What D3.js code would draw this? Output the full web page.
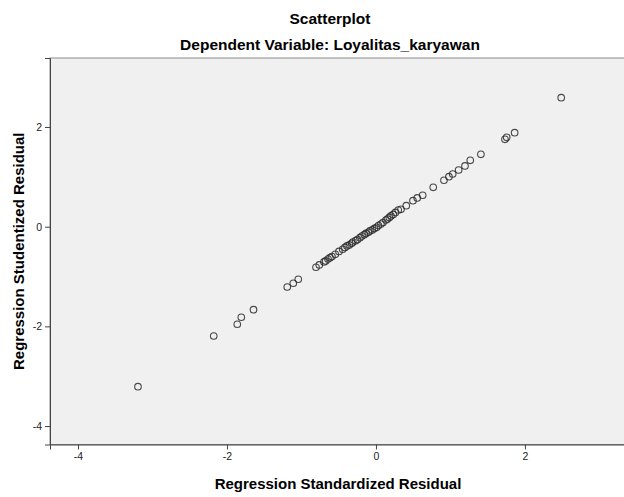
<!DOCTYPE html>
<html>
<head>
<meta charset="utf-8">
<script src="https://cdn.jsdelivr.net/npm/d3@7"></script>
<style>
  body { margin: 0; background: #fff; }
  svg { display: block; font-family: "Liberation Sans", Arial, sans-serif; }
</style>
</head>
<body>
<svg id="chart" width="624" height="497"></svg>
<script>
// standardized residual (x) and studentized residual (y)
const stdResid = [
  -3.195, -2.178, -1.862, -1.808, -1.644, -1.191, -1.110, -1.043,
  -0.805, -0.761, -0.698, -0.675, -0.644, -0.617, -0.591, -0.546,
  -0.497, -0.447, -0.416, -0.389, -0.358, -0.326, -0.309, -0.272,
  -0.248, -0.215, -0.188, -0.157, -0.134, -0.103, -0.081, -0.050,
  -0.020, 0.009, 0.034, 0.067, 0.094, 0.134, 0.154, 0.179,
  0.201, 0.232, 0.262, 0.299, 0.336, 0.407, 0.497, 0.554,
  0.627, 0.769, 0.913, 0.980, 1.030, 1.110, 1.195, 1.266,
  1.409, 1.732, 1.755, 1.862, 2.487
];
const studResid = [
  -3.210, -2.193, -1.958, -1.817, -1.665, -1.210, -1.135, -1.055,
  -0.814, -0.768, -0.708, -0.688, -0.648, -0.622, -0.598, -0.554,
  -0.497, -0.453, -0.417, -0.387, -0.367, -0.333, -0.307, -0.281,
  -0.257, -0.221, -0.187, -0.160, -0.136, -0.112, -0.086, -0.066,
  -0.036, -0.012, 0.024, 0.054, 0.084, 0.134, 0.154, 0.185,
  0.215, 0.245, 0.285, 0.335, 0.349, 0.421, 0.522, 0.576,
  0.630, 0.790, 0.931, 1.003, 1.057, 1.137, 1.218, 1.332,
  1.452, 1.753, 1.793, 1.886, 2.588
];
const xTicks = [-4, -2, 0, 2];
const yTicks = [-4, -2, 0, 2];
const xDomain = [-4.376, 3.33];
const yDomain = [-4.37, 3.384];

const title = "Scatterplot";
const subtitle = "Dependent Variable: Loyalitas_karyawan";
const xTitle = "Regression Standardized Residual";
const yTitle = "Regression Studentized Residual";

const plotLeft = 50, plotRight = 624, plotTop = 58, plotBottom = 444.5;

const svg = d3.select('#chart');

const x = d3.scaleLinear().domain(xDomain).range([plotLeft, plotRight]);
const y = d3.scaleLinear().domain(yDomain).range([plotBottom, plotTop]);

// plot area
svg.append('rect')
  .attr('x', plotLeft).attr('y', plotTop)
  .attr('width', plotRight - plotLeft + 2).attr('height', plotBottom - plotTop)
  .attr('fill', '#f0f0f0')
  .attr('stroke', '#8a8a8a')
  .attr('stroke-width', 1);

// axes
const xAxis = svg.append('g')
  .attr('transform', 'translate(0,' + plotBottom + ')')
  .call(d3.axisBottom(x).tickValues(xTicks).tickSize(5).tickPadding(3).tickFormat(d3.format('d')));
const yAxis = svg.append('g')
  .attr('transform', 'translate(' + plotLeft + ',0)')
  .call(d3.axisLeft(y).tickValues(yTicks).tickSize(5).tickPadding(3).tickFormat(d3.format('d')));

[xAxis, yAxis].forEach(function (g) {
  g.select('.domain').attr('stroke', '#444');
  g.selectAll('.tick line').attr('stroke', '#444');
  g.selectAll('.tick text')
    .attr('fill', '#222')
    .style('font-size', '10.5px')
    .style('font-family', '"Liberation Sans", Arial, sans-serif');
});
// d3 uses a unicode minus; use plain hyphen like SPSS
svg.selectAll('.tick text').text(function (d) { return String(d); });

// points
svg.append('g')
  .selectAll('circle')
  .data(d3.zip(stdResid, studResid))
  .enter()
  .append('circle')
  .attr('cx', function (d) { return x(d[0]); })
  .attr('cy', function (d) { return y(d[1]); })
  .attr('r', 3.3)
  .attr('fill', 'none')
  .attr('stroke', '#2a2a2a')
  .attr('stroke-opacity', 0.85)
  .attr('stroke-width', 1.1);

// titles
svg.append('text')
  .attr('x', 330).attr('y', 24)
  .attr('text-anchor', 'middle')
  .style('font-weight', 'bold').style('font-size', '15.5px')
  .text(title);
svg.append('text')
  .attr('x', 330).attr('y', 50)
  .attr('text-anchor', 'middle')
  .style('font-weight', 'bold').style('font-size', '15.5px')
  .text(subtitle);
svg.append('text')
  .attr('x', 338).attr('y', 489)
  .attr('text-anchor', 'middle')
  .style('font-weight', 'bold').style('font-size', '15px')
  .text(xTitle);
svg.append('text')
  .attr('transform', 'translate(24,' + ((plotTop + plotBottom) / 2) + ')rotate(-90)')
  .attr('text-anchor', 'middle')
  .style('font-weight', 'bold').style('font-size', '15px')
  .text(yTitle);
</script>
</body>
</html>
